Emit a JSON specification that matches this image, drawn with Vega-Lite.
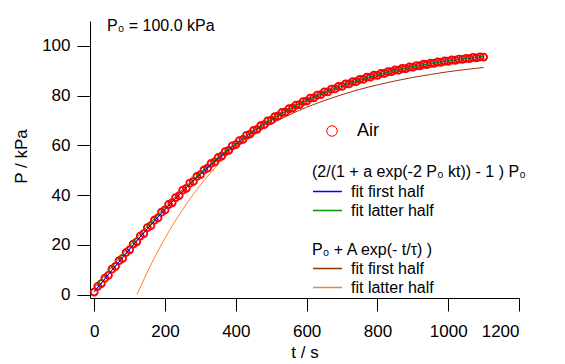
{
  "$schema": "https://vega.github.io/schema/vega-lite/v6.json",
  "width": 429,
  "height": 277,
  "autosize": {"type": "none"},
  "padding": {"left": 90, "top": 21, "right": 46, "bottom": 66},
  "background": "white",
  "title": {"text": "P₀ = 100.0 kPa", "anchor": "start", "frame": "group", "orient": "top", "offset": 0, "dx": 17, "dy": 26, "baseline": "alphabetic", "fontSize": 16, "fontWeight": "normal", "color": "black"},
  "datasets": {
    "air": [
      {"t":0,"P":1.0},{"t":10,"P":3.3},{"t":20,"P":4.4},{"t":30,"P":6.6},{"t":40,"P":7.7},{"t":50,"P":10.2},{"t":60,"P":11.3},{"t":70,"P":13.6},{"t":80,"P":14.5},{"t":90,"P":16.9},
      {"t":100,"P":18.0},{"t":110,"P":20.3},{"t":120,"P":21.2},{"t":130,"P":23.5},{"t":140,"P":24.5},{"t":150,"P":26.9},{"t":160,"P":27.7},{"t":170,"P":29.9},{"t":180,"P":30.8},{"t":190,"P":33.1},
      {"t":200,"P":34.0},{"t":210,"P":36.2},{"t":220,"P":36.9},{"t":230,"P":39.0},{"t":240,"P":39.8},{"t":250,"P":42.0},{"t":260,"P":42.7},{"t":270,"P":44.8},{"t":280,"P":45.5},{"t":290,"P":47.5},
      {"t":300,"P":48.2},{"t":310,"P":50.1},{"t":320,"P":50.8},{"t":330,"P":52.7},{"t":340,"P":53.3},{"t":350,"P":55.1},{"t":360,"P":55.7},{"t":370,"P":57.5},{"t":380,"P":58.0},{"t":390,"P":59.8},
      {"t":400,"P":60.3},{"t":410,"P":61.9},{"t":420,"P":62.4},{"t":430,"P":64.0},{"t":440,"P":64.5},{"t":450,"P":66.0},{"t":460,"P":66.4},{"t":470,"P":67.9},{"t":480,"P":68.3},{"t":490,"P":69.8},
      {"t":500,"P":70.1},{"t":510,"P":71.5},{"t":520,"P":71.8},{"t":530,"P":73.2},{"t":540,"P":73.4},{"t":550,"P":74.7},{"t":560,"P":75.0},{"t":570,"P":76.2},{"t":580,"P":76.4},{"t":590,"P":77.6},
      {"t":600,"P":77.8},{"t":610,"P":79.0},{"t":620,"P":79.1},{"t":630,"P":80.2},{"t":640,"P":80.4},{"t":650,"P":81.5},{"t":660,"P":81.5},{"t":670,"P":82.6},{"t":680,"P":82.7},{"t":690,"P":83.7},
      {"t":700,"P":83.7},{"t":710,"P":84.7},{"t":720,"P":84.7},{"t":730,"P":85.6},{"t":740,"P":85.6},{"t":750,"P":86.5},{"t":760,"P":86.5},{"t":770,"P":87.4},{"t":780,"P":87.4},{"t":790,"P":88.2},
      {"t":800,"P":88.1},{"t":810,"P":88.9},{"t":820,"P":88.9},{"t":830,"P":89.6},{"t":840,"P":89.6},{"t":850,"P":90.3},{"t":860,"P":90.2},{"t":870,"P":90.9},{"t":880,"P":90.8},{"t":890,"P":91.5},
      {"t":900,"P":91.4},{"t":910,"P":92.0},{"t":920,"P":92.0},{"t":930,"P":92.6},{"t":940,"P":92.5},{"t":950,"P":93.0},{"t":960,"P":93.0},{"t":970,"P":93.5},{"t":980,"P":93.4},{"t":990,"P":93.9},
      {"t":1000,"P":93.8},{"t":1010,"P":94.3},{"t":1020,"P":94.2},{"t":1030,"P":94.7},{"t":1040,"P":94.6},{"t":1050,"P":95.0},{"t":1060,"P":94.9},{"t":1070,"P":95.4},{"t":1080,"P":95.2},{"t":1090,"P":95.6},
      {"t":1100,"P":95.5}
    ],
    "tanhfit": [
      {"t":0,"P":1.2,"fit":"fit first half"},{"t":50,"P":9.79,"fit":"fit first half"},{"t":100,"P":18.24,"fit":"fit first half"},{"t":150,"P":26.43,"fit":"fit first half"},{"t":200,"P":34.26,"fit":"fit first half"},{"t":250,"P":41.63,"fit":"fit first half"},{"t":300,"P":48.5,"fit":"fit first half"},{"t":350,"P":54.82,"fit":"fit first half"},{"t":400,"P":60.56,"fit":"fit first half"},{"t":450,"P":65.74,"fit":"fit first half"},{"t":500,"P":70.37,"fit":"fit first half"},{"t":550,"P":74.46,"fit":"fit first half"},{"t":600,"P":78.06,"fit":"fit first half"},{"t":650,"P":81.21,"fit":"fit first half"},{"t":700,"P":83.95,"fit":"fit first half"},{"t":750,"P":86.32,"fit":"fit first half"},{"t":800,"P":88.36,"fit":"fit first half"},{"t":850,"P":90.11,"fit":"fit first half"},{"t":900,"P":91.61,"fit":"fit first half"},{"t":950,"P":92.9,"fit":"fit first half"},{"t":1000,"P":93.99,"fit":"fit first half"},{"t":1050,"P":94.92,"fit":"fit first half"},{"t":1100,"P":95.7,"fit":"fit first half"},
      {"t":0,"P":2.7,"fit":"fit latter half"},{"t":50,"P":11.1,"fit":"fit latter half"},{"t":100,"P":19.5,"fit":"fit latter half"},{"t":150,"P":27.5,"fit":"fit latter half"},{"t":200,"P":35.1,"fit":"fit latter half"},{"t":250,"P":42.3,"fit":"fit latter half"},{"t":300,"P":49.0,"fit":"fit latter half"},{"t":350,"P":55.2,"fit":"fit latter half"},{"t":400,"P":60.8,"fit":"fit latter half"},{"t":450,"P":65.9,"fit":"fit latter half"},{"t":500,"P":70.4,"fit":"fit latter half"},{"t":550,"P":74.4,"fit":"fit latter half"},{"t":600,"P":78.0,"fit":"fit latter half"},{"t":650,"P":81.15,"fit":"fit latter half"},{"t":700,"P":83.9,"fit":"fit latter half"},{"t":750,"P":86.3,"fit":"fit latter half"},{"t":800,"P":88.35,"fit":"fit latter half"},{"t":850,"P":90.1,"fit":"fit latter half"},{"t":900,"P":91.6,"fit":"fit latter half"},{"t":950,"P":92.9,"fit":"fit latter half"},{"t":1000,"P":94.0,"fit":"fit latter half"},{"t":1050,"P":94.95,"fit":"fit latter half"},{"t":1100,"P":95.75,"fit":"fit latter half"}
    ],
    "expfit": [
      {"t":0,"P":1.0,"fit":"fit first half"},{"t":50,"P":9.8,"fit":"fit first half"},{"t":100,"P":18.3,"fit":"fit first half"},{"t":150,"P":26.5,"fit":"fit first half"},{"t":200,"P":34.3,"fit":"fit first half"},{"t":250,"P":41.6,"fit":"fit first half"},{"t":300,"P":48.3,"fit":"fit first half"},{"t":350,"P":54.4,"fit":"fit first half"},{"t":400,"P":59.8,"fit":"fit first half"},{"t":450,"P":64.5,"fit":"fit first half"},{"t":500,"P":68.6,"fit":"fit first half"},{"t":550,"P":72.2,"fit":"fit first half"},{"t":600,"P":75.3,"fit":"fit first half"},{"t":650,"P":78.0,"fit":"fit first half"},{"t":700,"P":80.4,"fit":"fit first half"},{"t":750,"P":82.5,"fit":"fit first half"},{"t":800,"P":84.3,"fit":"fit first half"},{"t":850,"P":85.9,"fit":"fit first half"},{"t":900,"P":87.3,"fit":"fit first half"},{"t":950,"P":88.5,"fit":"fit first half"},{"t":1000,"P":89.6,"fit":"fit first half"},{"t":1050,"P":90.5,"fit":"fit first half"},{"t":1100,"P":91.3,"fit":"fit first half"},
      {"t":121,"P":0.0,"fit":"fit latter half"},{"t":150,"P":9.04,"fit":"fit latter half"},{"t":200,"P":22.69,"fit":"fit latter half"},{"t":250,"P":34.25,"fit":"fit latter half"},{"t":300,"P":44.04,"fit":"fit latter half"},{"t":350,"P":52.32,"fit":"fit latter half"},{"t":400,"P":59.33,"fit":"fit latter half"},{"t":450,"P":65.27,"fit":"fit latter half"},{"t":500,"P":70.29,"fit":"fit latter half"},{"t":550,"P":74.55,"fit":"fit latter half"},{"t":600,"P":78.15,"fit":"fit latter half"},{"t":650,"P":81.19,"fit":"fit latter half"},{"t":700,"P":83.78,"fit":"fit latter half"},{"t":750,"P":85.96,"fit":"fit latter half"},{"t":800,"P":87.81,"fit":"fit latter half"},{"t":850,"P":89.37,"fit":"fit latter half"},{"t":900,"P":90.7,"fit":"fit latter half"},{"t":950,"P":91.82,"fit":"fit latter half"},{"t":1000,"P":92.77,"fit":"fit latter half"},{"t":1050,"P":93.57,"fit":"fit latter half"},{"t":1100,"P":94.25,"fit":"fit latter half"}
    ]
  },
  "encoding": {
    "x": {"field": "t", "type": "quantitative",
      "scale": {"domain": [-12, 1200], "nice": false, "zero": false},
      "axis": {"title": "t / s", "values": [0, 200, 400, 600, 800, 1000, 1200], "format": "d", "labelPadding": 12, "titleY": 54, "titleBaseline": "middle"}},
    "y": {"field": "P", "type": "quantitative",
      "scale": {"domain": [-1.4, 110], "nice": false, "zero": false},
      "axis": {"title": "P / kPa", "values": [0, 20, 40, 60, 80, 100], "format": "d", "labelPadding": 7, "titleX": -69, "titleY": 135, "titleAngle": -90, "titleBaseline": "middle", "titleAlign": "center"}}
  },
  "layer": [
    {"mark": {"type": "rule", "color": "black", "strokeWidth": 1},
     "encoding": {"x": {"datum": 0, "type": "quantitative"}, "x2": {"datum": 1200}, "y": {"datum": 100, "type": "quantitative"}}},
    {"data": {"name": "expfit"},
     "mark": {"type": "line", "strokeWidth": 1, "interpolate": "monotone"},
     "encoding": {"color": {"field": "fit", "type": "nominal",
        "scale": {"domain": ["fit first half", "fit latter half"], "range": ["#993300", "#ff7f2a"]},
        "legend": {"title": "P₀ + A exp(- t/τ) )", "orient": "none", "legendX": 222, "legendY": 221, "padding": 0,
          "titleFontSize": 16, "titleFontWeight": "normal", "titleLimit": 400, "titleColor": "black", "titlePadding": 1, "titleBaseline": "top",
          "symbolType": "stroke", "symbolSize": 841, "symbolStrokeWidth": 1.3, "clipHeight": 19, "rowPadding": 0,
          "labelFontSize": 16, "labelOffset": 8, "labelColor": "black", "labelLimit": 300}}}},
    {"data": {"name": "air"},
     "mark": {"type": "point", "filled": false, "color": "#ff0000", "size": 48, "strokeWidth": 1.9, "opacity": 1},
     "encoding": {"shape": {"datum": "Air", "scale": {"range": ["circle"]},
        "legend": {"title": null, "orient": "none", "legendX": 233, "legendY": 101, "padding": 0,
          "symbolSize": 110, "symbolStrokeColor": "#ff0000", "symbolFillColor": "transparent", "symbolStrokeWidth": 1,
          "clipHeight": 18, "labelFontSize": 18, "labelOffset": 16, "labelColor": "black"}}}},
    {"data": {"name": "tanhfit"},
     "mark": {"type": "line", "strokeWidth": 1, "interpolate": "monotone"},
     "encoding": {"color": {"field": "fit", "type": "nominal",
        "scale": {"domain": ["fit first half", "fit latter half"], "range": ["#0000ff", "#009900"]},
        "legend": {"title": "(2/(1 + a exp(-2 P₀ kt)) - 1 ) P₀", "orient": "none", "legendX": 222, "legendY": 143, "padding": 0,
          "titleFontSize": 16, "titleFontWeight": "normal", "titleLimit": 400, "titleColor": "black", "titlePadding": 2, "titleBaseline": "top",
          "symbolType": "stroke", "symbolSize": 841, "symbolStrokeWidth": 1.3, "clipHeight": 19, "rowPadding": 0,
          "labelFontSize": 16, "labelOffset": 8, "labelColor": "black", "labelLimit": 300}}}}
  ],
  "resolve": {"scale": {"color": "independent"}, "legend": {"color": "independent"}},
  "config": {
    "font": "Liberation Sans",
    "view": {"stroke": null},
    "axis": {"grid": false, "domainColor": "black", "tickColor": "black", "labelColor": "black", "titleColor": "black",
      "labelFontSize": 17, "titleFontSize": 17, "titleFontWeight": "normal", "tickSize": 13, "domainWidth": 1, "tickWidth": 1}
  }
}
